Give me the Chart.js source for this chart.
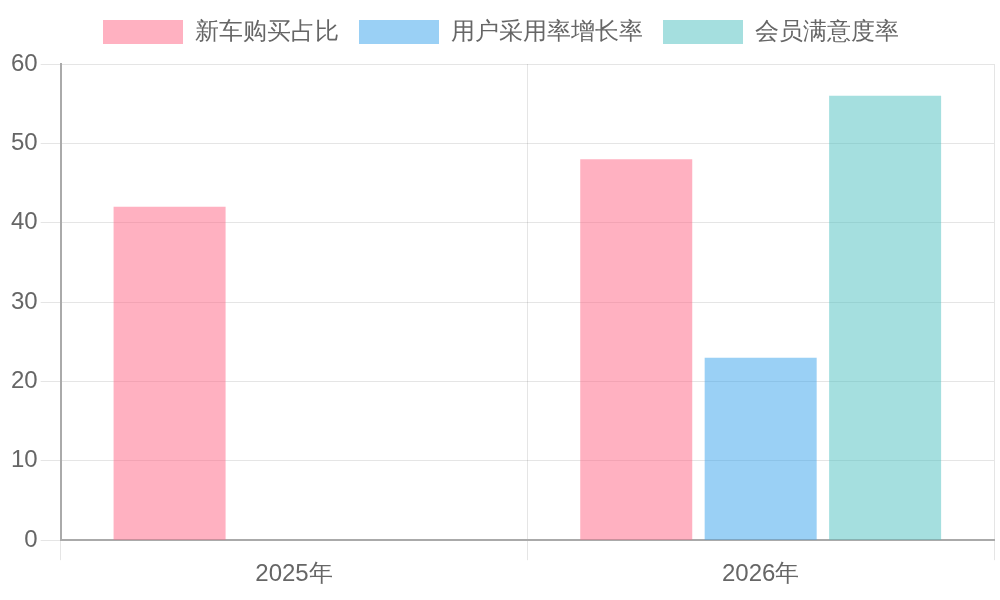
<!DOCTYPE html>
<html>
<head>
<meta charset="utf-8">
<script src="https://cdn.jsdelivr.net/npm/chart.js@4"></script>
<style>
  html, body { margin: 0; padding: 0; background: #fff; }
  #wrap { width: 1000px; height: 600px; }
</style>
</head>
<body>
<div id="wrap"><canvas id="chart"></canvas></div>
<script>
// categories and series
const years = ["2025年", "2026年"];
const newCarShare = [42, 48];
const adoptionGrowth = [null, 23];
const memberSatisfaction = [null, 56];

Chart.defaults.font.family = "'Liberation Sans', Arial, sans-serif";
Chart.defaults.color = "#666";

// a bit more room under the legend
const legendGap = {
  id: "legendGap",
  beforeInit(chart) {
    const fit = chart.legend.fit;
    chart.legend.fit = function () {
      fit.bind(chart.legend)();
      this.height += 10;
    };
  },
};

new Chart(document.getElementById("chart"), {
  type: "bar",
  data: {
    labels: years,
    datasets: [
      { label: "新车购买占比", data: newCarShare, backgroundColor: "rgba(255, 99, 132, 0.5)" },
      { label: "用户采用率增长率", data: adoptionGrowth, backgroundColor: "rgba(54, 162, 235, 0.5)" },
      { label: "会员满意度率", data: memberSatisfaction, backgroundColor: "rgba(75, 192, 192, 0.5)" },
    ],
  },
  options: {
    responsive: true,
    maintainAspectRatio: false,
    animation: false,
    layout: { padding: { top: 0, left: 8, bottom: 11, right: 6 } },
    plugins: {
      legend: {
        labels: { font: { size: 24 }, boxWidth: 80, padding: 20 },
      },
    },
    scales: {
      x: {
        grid: { tickLength: 20 },
        ticks: { font: { size: 24 }, padding: 0 },
        border: { color: "#aaa", width: 2 },
      },
      y: {
        min: 0,
        max: 60,
        grid: { tickLength: 20 },
        ticks: { stepSize: 10, font: { size: 24 } },
        border: { color: "#aaa", width: 2 },
      },
    },
  },
  plugins: [legendGap],
});
</script>
</body>
</html>
